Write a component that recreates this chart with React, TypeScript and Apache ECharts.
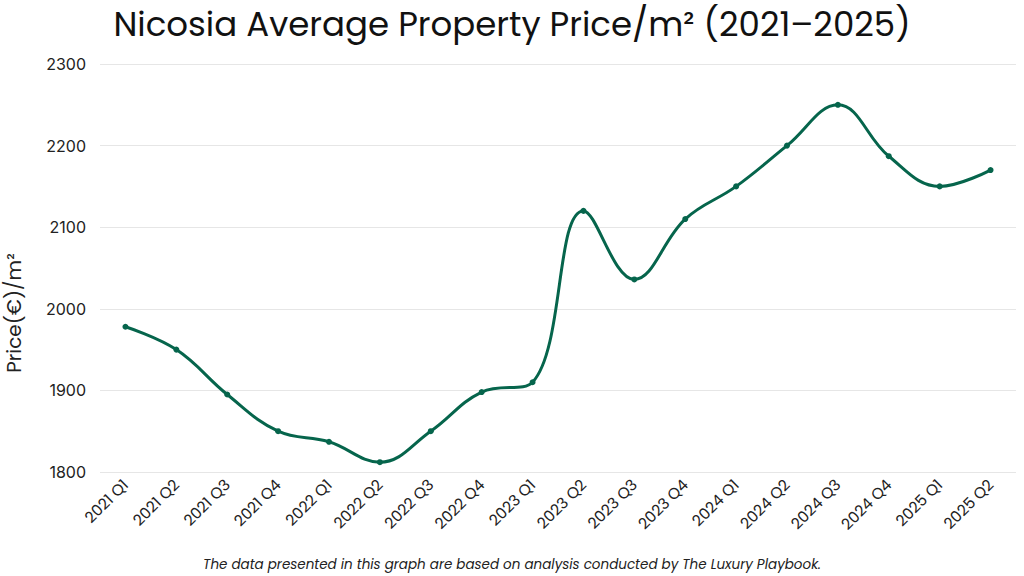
import { useEffect, useRef } from "react";
import * as echarts from "echarts";

const quarters = [
  "2021 Q1", "2021 Q2", "2021 Q3", "2021 Q4",
  "2022 Q1", "2022 Q2", "2022 Q3", "2022 Q4",
  "2023 Q1", "2023 Q2", "2023 Q3", "2023 Q4",
  "2024 Q1", "2024 Q2", "2024 Q3", "2024 Q4",
  "2025 Q1", "2025 Q2",
];

const prices = [
  1978, 1950, 1895, 1850,
  1837, 1812, 1850, 1898,
  1910, 2120, 2036, 2110,
  2150, 2200, 2250, 2187,
  2150, 2170,
];

const FONT = "Poppins, 'Open Sans', 'Noto Sans', sans-serif";

const App = () => {
  const containerRef = useRef<HTMLDivElement>(null);

  useEffect(() => {
    if (!containerRef.current) return;
    const chart = echarts.init(containerRef.current, undefined, { renderer: "svg" });

    chart.setOption({
      animation: false,
      textStyle: { fontFamily: FONT },
      title: {
        text: "Nicosia Average Property Price/m² (2021–2025)",
        left: "center",
        top: 2,
        textStyle: { fontFamily: FONT, fontSize: 34, fontWeight: "normal", color: "#111" },
      },
      grid: { left: 100, right: 8, top: 64, bottom: 104 },
      xAxis: {
        type: "category",
        data: quarters,
        boundaryGap: true,
        axisLine: { show: false },
        axisTick: { show: false },
        axisLabel: {
          rotate: 45,
          interval: 0,
          margin: 10,
          color: "#222",
          fontSize: 15.5,
          fontFamily: FONT,
        },
      },
      yAxis: {
        type: "value",
        min: 1800,
        max: 2300,
        interval: 100,
        axisLabel: {
          color: "#222",
          fontSize: 16,
          margin: 14,
          fontFamily: "Inter, 'Noto Sans', sans-serif",
          formatter: (v: number) => String(v),
        },
        splitLine: { lineStyle: { color: "#e6e6e6", width: 1 } },
      },
      series: [
        {
          type: "line",
          data: prices,
          smooth: 0.4,
          symbol: "circle",
          symbolSize: 6,
          lineStyle: { color: "#06654c", width: 3 },
          itemStyle: { color: "#06654c" },
        },
      ],
      graphic: [
        {
          type: "text",
          x: 14,
          y: 313,
          rotation: Math.PI / 2,
          style: {
            text: "Price(€)/m²",
            font: `20px ${FONT}`,
            fill: "#222",
            align: "center",
            verticalAlign: "middle",
          },
        },
        {
          type: "text",
          left: "center",
          top: 557,
          style: {
            text: "The data presented in this graph are based on analysis conducted by The Luxury Playbook.",
            font: `italic 13.5px ${FONT}`,
            fill: "#222",
          },
        },
      ],
    });

    return () => {
      chart.dispose();
    };
  }, []);

  return (
    <div
      ref={containerRef}
      style={{ position: "fixed", left: 0, top: 0, width: 1024, height: 576, background: "#fff" }}
    />
  );
};

export default App;
